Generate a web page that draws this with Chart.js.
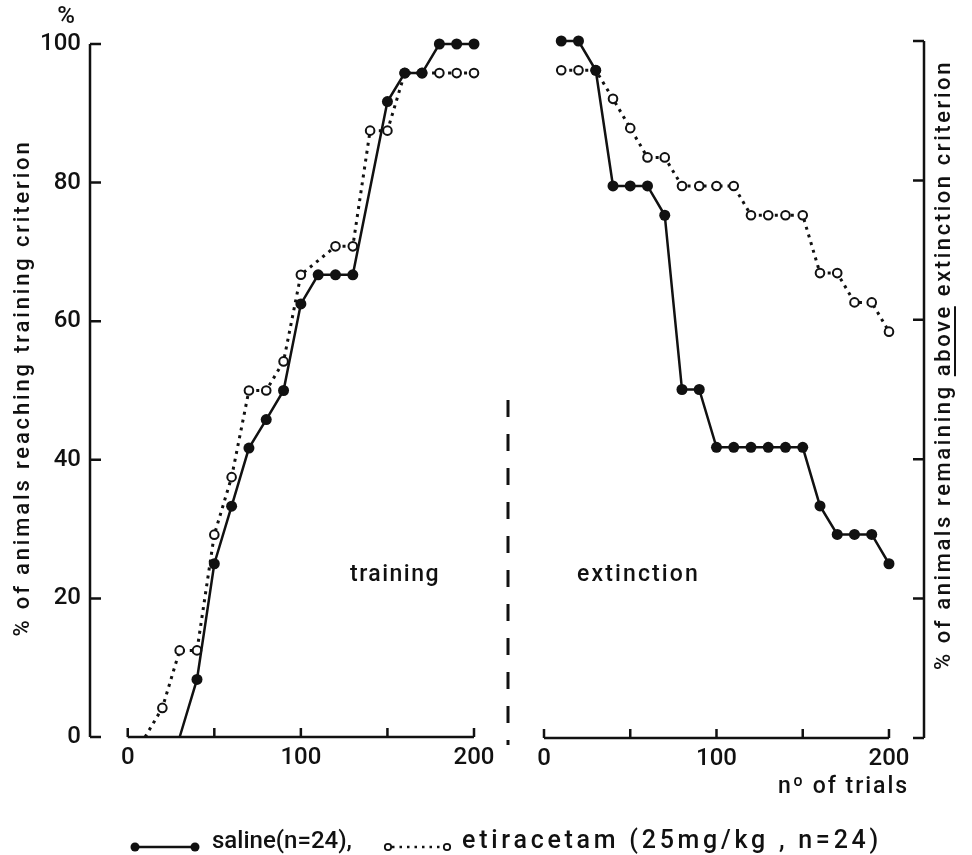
<!DOCTYPE html>
<html>
<head>
<meta charset="utf-8">
<title>Training / extinction</title>
<script src="https://cdn.jsdelivr.net/npm/chart.js@4.4.1/dist/chart.umd.min.js"></script>
<style>
  html, body { margin: 0; padding: 0; background: #fff; }
  #wrap { position: relative; width: 972px; height: 855px; }
  #wrap canvas { position: absolute; left: 0; top: 0; }
</style>
</head>
<body>
<div id="wrap">
  <canvas id="trainChart" width="972" height="855"></canvas>
  <canvas id="extChart" width="972" height="855"></canvas>
</div>
<script>
// ──────────────────────────────────────────────
//  DATA (% of animals)
// ──────────────────────────────────────────────
const trainSalineX = [30, 40, 50, 60, 70, 80, 90, 100, 110, 120, 130, 150, 160, 170, 180, 190, 200];
const trainSalineY = [0, 8.3, 25, 33.3, 41.7, 45.8, 50, 62.5, 66.7, 66.7, 66.7, 91.7, 95.8, 95.8, 100, 100, 100];

const trainEtiX = [10, 20, 30, 40, 50, 60, 70, 80, 90, 100, 120, 130, 140, 150, 160, 170, 180, 190, 200];
const trainEtiY = [0, 4.2, 12.5, 12.5, 29.2, 37.5, 50, 50, 54.2, 66.7, 70.8, 70.8, 87.5, 87.5, 95.8, 95.8, 95.8, 95.8, 95.8];

const extX = [10, 20, 30, 40, 50, 60, 70, 80, 90, 100, 110, 120, 130, 140, 150, 160, 170, 180, 190, 200];
const extSalineY = [100, 100, 95.8, 79.2, 79.2, 79.2, 75, 50, 50, 41.7, 41.7, 41.7, 41.7, 41.7, 41.7, 33.3, 29.2, 29.2, 29.2, 25];
const extEtiY = [95.8, 95.8, 95.8, 91.7, 87.5, 83.3, 83.3, 79.2, 79.2, 79.2, 79.2, 75, 75, 75, 75, 66.7, 66.7, 62.5, 62.5, 58.3];

const xTickLabels = [0, 100, 200];
const xTickMarks = [0, 50, 100, 150, 200];
const yTicks = [0, 20, 40, 60, 80, 100];

const SALINE_LABEL = "saline(n=24),";
const ETI_LABEL = "etiracetam (25mg/kg , n=24)";

// ──────────────────────────────────────────────
//  LOOK
// ──────────────────────────────────────────────
const INK = "#111";
const FONT = "Roboto, 'DejaVu Sans', sans-serif";
Chart.defaults.font.family = FONT;
Chart.defaults.font.weight = 500;
Chart.defaults.color = INK;

function salineSet(xs, ys) {
  return {
    data: xs.map((x, i) => ({ x, y: ys[i] })),
    borderColor: INK,
    backgroundColor: INK,
    borderWidth: 2.5,
    pointRadius: (ctx) => (ctx.raw && ctx.raw.y === 0 ? 0 : 5.5),
    pointBackgroundColor: INK,
    pointBorderWidth: 0,
    tension: 0,
    clip: false,
    order: 0,
  };
}

function etiSet(xs, ys) {
  return {
    data: xs.map((x, i) => ({ x, y: ys[i] })),
    borderColor: INK,
    borderWidth: 3,
    borderDash: [3, 5],
    pointRadius: (ctx) => (ctx.raw && ctx.raw.y === 0 ? 0 : 4.3),
    pointBackgroundColor: "#fff",
    pointBorderColor: INK,
    pointBorderWidth: 2,
    tension: 0,
    clip: false,
    order: 1,
  };
}

// axis lines with inward ticks, x axis only spanning 0..200
const frameAxes = {
  id: "frameAxes",
  beforeDatasetsDraw(chart, args, opts) {
    const { ctx, chartArea: a, scales: { x, y } } = chart;
    const ax = opts.side === "right" ? a.right : a.left;
    const dir = opts.side === "right" ? -1 : 1;
    ctx.save();
    ctx.strokeStyle = INK;
    ctx.lineWidth = 2.5;
    ctx.beginPath();
    ctx.moveTo(ax, y.getPixelForValue(100));
    ctx.lineTo(ax, y.getPixelForValue(0));
    yTicks.forEach((v) => {
      const py = y.getPixelForValue(v);
      ctx.moveTo(ax, py);
      ctx.lineTo(ax + dir * 11, py);
    });
    const base = a.bottom;
    ctx.moveTo(x.getPixelForValue(0), base);
    ctx.lineTo(x.getPixelForValue(200), base);
    xTickMarks.forEach((v) => {
      const px = x.getPixelForValue(v);
      ctx.moveTo(px, base);
      ctx.lineTo(px, base - 9);
    });
    ctx.stroke();
    ctx.restore();
  },
};

// the figure's lettering is loosely spaced: stretch a string to a given run length
function spaced(ctx, text, x, y, width) {
  ctx.letterSpacing = "0px";
  const natural = ctx.measureText(text).width;
  ctx.letterSpacing = (width - natural) / text.length + "px";
  ctx.fillText(text, x, y);
  ctx.letterSpacing = "0px";
}

function rotatedText(ctx, text, cx, cy, width, underlineWord) {
  ctx.save();
  ctx.translate(cx, cy);
  ctx.rotate(-Math.PI / 2);
  ctx.textAlign = "left";
  ctx.textBaseline = "middle";
  ctx.letterSpacing = "0px";
  const natural = ctx.measureText(text).width;
  ctx.letterSpacing = (width - natural) / text.length + "px";
  ctx.fillText(text, -width / 2, 0);
  if (underlineWord) {
    const i = text.indexOf(underlineWord);
    const start = -width / 2 + ctx.measureText(text.slice(0, i)).width;
    const len = ctx.measureText(underlineWord).width;
    ctx.fillRect(start, 10, len - 2, 2);
  }
  ctx.restore();
}

// labels for the training panel
const trainDecor = {
  id: "trainDecor",
  afterDraw(chart) {
    const ctx = chart.ctx;
    ctx.save();
    ctx.fillStyle = INK;
    ctx.font = `500 24px ${FONT}`;
    ctx.textAlign = "center";
    ctx.textBaseline = "middle";
    ctx.fillText("%", 66, 17);
    ctx.font = `500 23px ${FONT}`;
    ctx.textAlign = "left";
    spaced(ctx, "training", 350, 575, 90);
    ctx.font = `500 22px ${FONT}`;
    rotatedText(ctx, "% of animals reaching training criterion", 23, 388, 497);
    ctx.restore();
  },
};

// labels, divider and legend drawn on the top canvas
const extDecor = {
  id: "extDecor",
  afterDraw(chart) {
    const ctx = chart.ctx;
    ctx.save();
    ctx.fillStyle = INK;
    ctx.strokeStyle = INK;

    ctx.font = `500 23px ${FONT}`;
    ctx.textAlign = "left";
    ctx.textBaseline = "middle";
    spaced(ctx, "extinction", 577, 575, 123);
    spaced(ctx, "nº of trials", 778, 787, 131);

    ctx.font = `500 22px ${FONT}`;
    rotatedText(ctx, "% of animals remaining above extinction criterion", 944, 365, 610, "above");

    // divider between the two phases
    ctx.lineWidth = 3;
    ctx.setLineDash([17, 17]);
    ctx.beginPath();
    ctx.moveTo(508, 400);
    ctx.lineTo(508, 745);
    ctx.stroke();

    // legend
    const ly = 847;
    ctx.setLineDash([]);
    ctx.lineWidth = 2.5;
    ctx.beginPath();
    ctx.moveTo(135, ly);
    ctx.lineTo(195, ly);
    ctx.stroke();
    [135, 195].forEach((px) => {
      ctx.beginPath();
      ctx.arc(px, ly, 4.5, 0, Math.PI * 2);
      ctx.fill();
    });

    ctx.setLineDash([2.5, 5]);
    ctx.beginPath();
    ctx.moveTo(392, ly);
    ctx.lineTo(444, ly);
    ctx.stroke();
    ctx.setLineDash([]);
    ctx.lineWidth = 1.8;
    [388, 447].forEach((px) => {
      ctx.beginPath();
      ctx.arc(px, ly, 3.2, 0, Math.PI * 2);
      ctx.fillStyle = "#fff";
      ctx.fill();
      ctx.stroke();
    });

    ctx.fillStyle = INK;
    ctx.font = `500 24px ${FONT}`;
    ctx.fillText(SALINE_LABEL, 212, 842);
    ctx.font = `500 25px ${FONT}`;
    spaced(ctx, ETI_LABEL, 462, 842, 420);
    ctx.restore();
  },
};

function xScale(min, max, height) {
  return {
    type: "linear",
    min,
    max,
    grid: { display: false, drawTicks: false },
    border: { display: false },
    afterBuildTicks: (s) => { s.ticks = xTickLabels.map((v) => ({ value: v })); },
    afterFit: (s) => { s.height = height; },
    ticks: { padding: 7, font: { size: 24 }, color: INK, maxRotation: 0 },
  };
}

function yScale(position, width, showLabels) {
  return {
    position,
    min: 0,
    max: 100,
    grid: { display: false, drawTicks: false },
    border: { display: false },
    afterBuildTicks: (s) => { s.ticks = yTicks.map((v) => ({ value: v })); },
    afterFit: (s) => { s.width = width; },
    ticks: { display: showLabels, padding: 9, font: { size: 24 }, color: INK },
  };
}

const baseOptions = {
  responsive: false,
  animation: false,
  events: [],
  plugins: { legend: { display: false }, tooltip: { enabled: false } },
};

// ──────────────────────────────────────────────
//  TRAINING PANEL (left)
// ──────────────────────────────────────────────
new Chart(document.getElementById("trainChart"), {
  type: "line",
  data: { datasets: [salineSet(trainSalineX, trainSalineY), etiSet(trainEtiX, trainEtiY)] },
  options: {
    ...baseOptions,
    layout: { padding: { left: 0, top: 44, right: 498, bottom: 0 } },
    plugins: { ...baseOptions.plugins, frameAxes: { side: "left" } },
    scales: { x: xScale(-21.8, 200, 118), y: yScale("left", 90, true) },
  },
  plugins: [frameAxes, trainDecor],
});

// ──────────────────────────────────────────────
//  EXTINCTION PANEL (right)
// ──────────────────────────────────────────────
new Chart(document.getElementById("extChart"), {
  type: "line",
  data: { datasets: [salineSet(extX, extSalineY), etiSet(extX, extEtiY)] },
  options: {
    ...baseOptions,
    layout: { padding: { left: 544, top: 41, right: 0, bottom: 0 } },
    plugins: { ...baseOptions.plugins, frameAxes: { side: "right" } },
    scales: { x: xScale(0, 220.3, 117), y: yScale("right", 48, false) },
  },
  plugins: [frameAxes, extDecor],
});
</script>
</body>
</html>
